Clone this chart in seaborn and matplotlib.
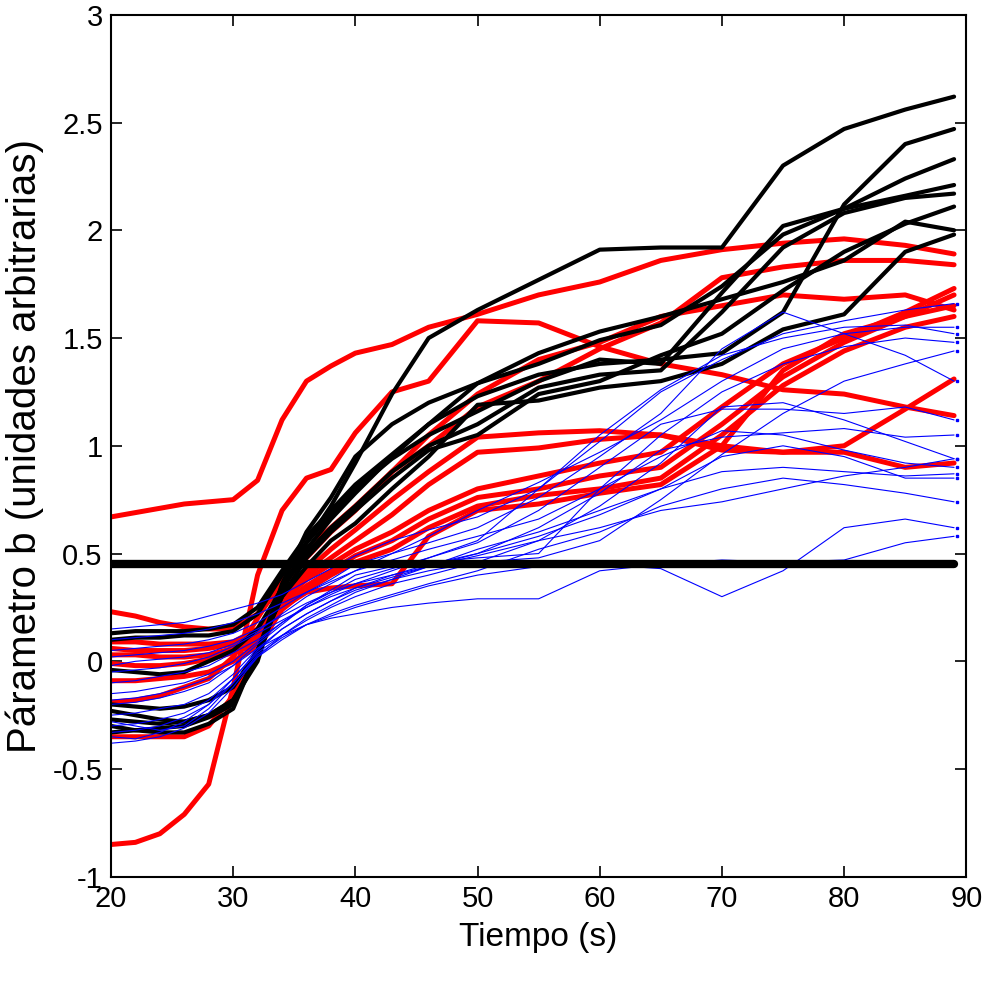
import numpy as np
import pandas as pd
import matplotlib
matplotlib.use("Agg")
import matplotlib.pyplot as plt
import seaborn as sns
from matplotlib import font_manager

# ---------------- data ----------------
tiempo = [20, 22, 24, 26, 28, 30, 32, 34, 36, 38, 40, 43, 46, 50, 55, 60, 65, 70, 75, 80, 85, 89]

black_series = {
    "B1": [-0.23, -0.25, -0.27, -0.28, -0.25, -0.18, 0.02, 0.32, 0.55, 0.72, 0.92, 1.24, 1.50, 1.63, 1.77, 1.91, 1.92, 1.92, 2.30, 2.47, 2.56, 2.62],
    "B2": [0.13, 0.14, 0.14, 0.14, 0.15, 0.17, 0.25, 0.42, 0.58, 0.70, 0.82, 0.96, 1.10, 1.23, 1.33, 1.38, 1.40, 1.43, 1.62, 2.12, 2.40, 2.47],
    "B3": [-0.30, -0.32, -0.33, -0.33, -0.29, -0.22, 0.05, 0.35, 0.52, 0.66, 0.78, 0.95, 1.10, 1.29, 1.38, 1.49, 1.56, 1.74, 1.98, 2.10, 2.24, 2.33],
    "B4": [0.10, 0.11, 0.11, 0.12, 0.12, 0.14, 0.22, 0.40, 0.55, 0.68, 0.80, 0.94, 1.05, 1.16, 1.30, 1.40, 1.38, 1.71, 2.02, 2.10, 2.16, 2.21],
    "B5": [-0.04, -0.05, -0.06, -0.05, 0.00, 0.05, 0.15, 0.34, 0.50, 0.62, 0.72, 0.88, 1.00, 1.10, 1.27, 1.33, 1.35, 1.62, 1.92, 2.08, 2.15, 2.17],
    "B6": [-0.20, -0.21, -0.22, -0.21, -0.18, -0.12, 0.05, 0.30, 0.48, 0.60, 0.70, 0.85, 0.98, 1.05, 1.24, 1.30, 1.42, 1.52, 1.72, 1.90, 2.03, 2.11],
    "B7": [-0.27, -0.28, -0.29, -0.28, -0.25, -0.18, 0.00, 0.36, 0.60, 0.76, 0.95, 1.10, 1.20, 1.29, 1.43, 1.53, 1.60, 1.68, 1.76, 1.86, 2.04, 2.00],
    "B8": [-0.33, -0.32, -0.31, -0.30, -0.26, -0.20, 0.05, 0.30, 0.44, 0.56, 0.64, 0.80, 0.95, 1.19, 1.21, 1.27, 1.30, 1.38, 1.54, 1.61, 1.90, 1.98],
}

red_series = {
    "R1": [0.67, 0.69, 0.71, 0.73, 0.74, 0.75, 0.84, 1.12, 1.30, 1.37, 1.43, 1.47, 1.55, 1.61, 1.70, 1.76, 1.86, 1.91, 1.94, 1.96, 1.93, 1.89],
    "R2": [-0.85, -0.84, -0.80, -0.71, -0.57, -0.12, 0.40, 0.70, 0.85, 0.89, 1.06, 1.25, 1.30, 1.58, 1.57, 1.46, 1.38, 1.33, 1.26, 1.24, 1.18, 1.14],
    "R3": [-0.19, -0.18, -0.16, -0.12, -0.08, 0.02, 0.20, 0.38, 0.52, 0.62, 0.72, 0.88, 1.00, 1.18, 1.30, 1.45, 1.57, 1.78, 1.83, 1.86, 1.86, 1.84],
    "R4": [0.23, 0.21, 0.18, 0.16, 0.15, 0.15, 0.22, 0.35, 0.48, 0.60, 0.70, 0.88, 1.05, 1.24, 1.40, 1.48, 1.60, 1.65, 1.70, 1.68, 1.70, 1.63],
    "R5": [0.03, 0.03, 0.02, 0.02, 0.03, 0.06, 0.10, 0.28, 0.38, 0.45, 0.52, 0.60, 0.70, 0.80, 0.86, 0.92, 0.97, 1.18, 1.38, 1.50, 1.62, 1.73],
    "R6": [-0.01, -0.02, -0.02, -0.01, 0.01, 0.04, 0.08, 0.26, 0.35, 0.42, 0.49, 0.56, 0.66, 0.76, 0.80, 0.86, 0.90, 1.10, 1.32, 1.48, 1.60, 1.70],
    "R7": [-0.09, -0.09, -0.08, -0.07, -0.05, 0.00, 0.07, 0.24, 0.33, 0.40, 0.46, 0.52, 0.62, 0.72, 0.77, 0.80, 0.85, 1.05, 1.28, 1.44, 1.55, 1.60],
    "R8": [-0.35, -0.35, -0.35, -0.35, -0.30, -0.16, 0.05, 0.25, 0.32, 0.34, 0.35, 0.36, 0.58, 0.70, 0.73, 0.78, 0.82, 1.00, 1.35, 1.52, 1.60, 1.65],
    "R9": [0.09, 0.09, 0.08, 0.08, 0.08, 0.09, 0.15, 0.30, 0.42, 0.52, 0.61, 0.75, 0.88, 1.04, 1.06, 1.07, 1.05, 0.98, 0.97, 1.00, 1.17, 1.31],
    "R10": [0.06, 0.05, 0.05, 0.05, 0.06, 0.08, 0.12, 0.30, 0.40, 0.48, 0.56, 0.68, 0.82, 0.97, 0.99, 1.03, 1.05, 1.00, 0.97, 0.97, 0.90, 0.92],
}

blue_series = {
    "Bl1": [0.15, 0.16, 0.17, 0.18, 0.21, 0.24, 0.27, 0.31, 0.37, 0.43, 0.49, 0.56, 0.61, 0.67, 0.80, 1.02, 1.25, 1.40, 1.52, 1.58, 1.63, 1.66],
    "Bl2": [-0.02, 0.00, 0.01, 0.02, 0.04, 0.08, 0.14, 0.22, 0.30, 0.36, 0.42, 0.50, 0.58, 0.70, 0.83, 0.97, 1.12, 1.30, 1.45, 1.52, 1.55, 1.55],
    "Bl3": [-0.10, -0.09, -0.07, -0.05, -0.02, 0.04, 0.10, 0.18, 0.25, 0.31, 0.36, 0.42, 0.48, 0.56, 0.80, 1.05, 1.26, 1.42, 1.50, 1.55, 1.56, 1.52],
    "Bl4": [-0.20, -0.19, -0.17, -0.14, -0.10, -0.02, 0.08, 0.17, 0.26, 0.33, 0.40, 0.44, 0.46, 0.48, 0.50, 0.80, 1.05, 1.25, 1.38, 1.46, 1.50, 1.48],
    "Bl5": [-0.30, -0.29, -0.27, -0.24, -0.18, -0.08, 0.05, 0.15, 0.22, 0.28, 0.33, 0.38, 0.42, 0.46, 0.48, 0.56, 0.75, 0.96, 1.15, 1.30, 1.38, 1.44],
    "Bl6": [0.05, 0.06, 0.07, 0.08, 0.10, 0.13, 0.18, 0.25, 0.32, 0.38, 0.45, 0.50, 0.55, 0.62, 0.76, 0.95, 1.15, 1.45, 1.62, 1.52, 1.42, 1.30],
    "Bl7": [-0.15, -0.14, -0.12, -0.10, -0.06, 0.00, 0.09, 0.18, 0.26, 0.32, 0.38, 0.43, 0.48, 0.55, 0.70, 0.90, 1.10, 1.17, 1.17, 1.15, 1.18, 1.12],
    "Bl8": [-0.25, -0.24, -0.22, -0.20, -0.15, -0.06, 0.06, 0.15, 0.22, 0.28, 0.34, 0.40, 0.45, 0.50, 0.62, 0.78, 0.98, 1.04, 1.06, 1.08, 1.04, 1.05],
    "Bl9": [-0.35, -0.36, -0.33, -0.28, -0.20, -0.08, 0.04, 0.12, 0.19, 0.25, 0.30, 0.36, 0.40, 0.46, 0.56, 0.72, 0.92, 1.18, 1.20, 1.12, 1.02, 0.94],
    "Bl10": [0.10, 0.11, 0.12, 0.13, 0.15, 0.18, 0.22, 0.27, 0.32, 0.37, 0.42, 0.47, 0.52, 0.58, 0.66, 0.80, 0.95, 1.07, 1.05, 0.98, 0.92, 0.90],
    "Bl11": [-0.05, -0.04, -0.03, -0.01, 0.02, 0.07, 0.13, 0.19, 0.25, 0.30, 0.34, 0.39, 0.44, 0.50, 0.58, 0.68, 0.80, 0.88, 0.90, 0.88, 0.86, 0.87],
    "Bl12": [-0.38, -0.37, -0.35, -0.31, -0.24, -0.12, 0.02, 0.10, 0.17, 0.22, 0.26, 0.31, 0.36, 0.42, 0.52, 0.60, 0.72, 0.80, 0.85, 0.82, 0.78, 0.74],
    "Bl13": [-0.28, -0.30, -0.32, -0.30, -0.22, -0.10, 0.03, 0.11, 0.17, 0.21, 0.25, 0.30, 0.35, 0.40, 0.44, 0.45, 0.43, 0.30, 0.42, 0.62, 0.66, 0.62],
    "Bl14": [-0.18, -0.17, -0.15, -0.12, -0.08, -0.02, 0.06, 0.12, 0.17, 0.20, 0.22, 0.25, 0.27, 0.29, 0.29, 0.42, 0.45, 0.47, 0.46, 0.47, 0.55, 0.58],
    "Bl15": [0.02, 0.03, 0.04, 0.05, 0.07, 0.10, 0.15, 0.21, 0.27, 0.32, 0.36, 0.40, 0.44, 0.49, 0.56, 0.62, 0.70, 0.74, 0.80, 0.86, 0.90, 0.94],
    "Bl16": [-0.33, -0.32, -0.30, -0.26, -0.20, -0.10, 0.02, 0.12, 0.20, 0.26, 0.32, 0.38, 0.44, 0.52, 0.60, 0.70, 0.80, 0.95, 1.00, 0.95, 0.85, 0.85],
}

umbral_x = [20, 89]
umbral_y = [0.45, 0.45]

x_ticks = [20, 30, 40, 50, 60, 70, 80, 90]
y_ticks = [-1, -0.5, 0, 0.5, 1, 1.5, 2, 2.5, 3]
y_ticklabels = ["-1", "-0.5", "0", "0.5", "1", "1.5", "2", "2.5", "3"]


def to_long(series, group):
    rows = []
    for name, vals in series.items():
        for t, v in zip(tiempo, vals):
            rows.append((name, group, t, v))
    return pd.DataFrame(rows, columns=["id", "grupo", "t", "b"])


df_black = to_long(black_series, "negro")
df_red = to_long(red_series, "rojo")
df_blue = to_long(blue_series, "azul")
df_umbral = pd.DataFrame({"t": umbral_x, "b": umbral_y})

# ---------------- style ----------------
sns.set_theme(style="white")
available = {f.name for f in font_manager.fontManager.ttflist}
fam = "Liberation Sans Narrow" if "Liberation Sans Narrow" in available else "Liberation Sans"
plt.rcParams["font.family"] = [fam, "DejaVu Sans"]

fig = plt.figure(figsize=(9.82, 9.83), dpi=100)
ax = fig.add_axes([0.113, 0.108, 0.871, 0.877])

sns.lineplot(data=df_red, x="t", y="b", units="id", estimator=None,
             color="#ff0000", linewidth=3.6, ax=ax, legend=False, sort=False)
sns.lineplot(data=df_black, x="t", y="b", units="id", estimator=None,
             color="black", linewidth=3.0, ax=ax, legend=False, sort=False)
sns.lineplot(data=df_blue, x="t", y="b", units="id", estimator=None,
             color="#0000ff", linewidth=0.8, ax=ax, legend=False, sort=False)
# small end markers on blue curves
for name in blue_series:
    d = df_blue[df_blue["id"] == name]
    ax.plot(d["t"].iloc[-1] + 0.25, d["b"].iloc[-1], marker="s", ms=2,
            color="#0000ff", linestyle="none")
sns.lineplot(data=df_umbral, x="t", y="b", color="black", linewidth=6,
             ax=ax, legend=False)

ax.set_xlim(20, 90)
ax.set_ylim(-1, 3)
ax.set_xticks(x_ticks)
ax.set_yticks(y_ticks)
ax.set_yticklabels(y_ticklabels)
ax.tick_params(direction="in", length=8, width=1.2, top=True, right=True,
               bottom=True, left=True, labelsize=21, colors="black", pad=6)
for s in ax.spines.values():
    s.set_visible(True)
    s.set_color("black")
    s.set_linewidth(1.5)
ax.set_xlabel("Tiempo (s)", fontsize=24, labelpad=6, color="black")
ax.set_ylabel("Párametro b (unidades arbitrarias)", fontsize=29, labelpad=6, color="black")
ax.grid(False)

fig.savefig("out.png", dpi=100, facecolor="white")
